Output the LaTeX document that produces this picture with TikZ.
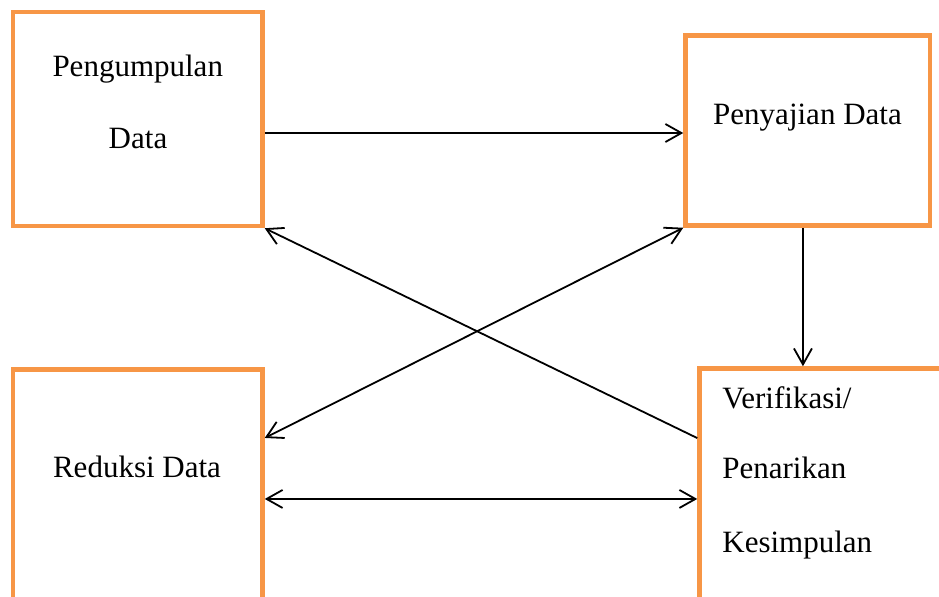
\documentclass[tikz,border=0pt]{standalone}
\usepackage{fontspec}
\setmainfont{Liberation Serif}
\usetikzlibrary{arrows.meta}
\definecolor{boxorange}{HTML}{F79646}
\tikzset{
  box/.style={draw=boxorange, line width=2.25pt, rectangle, inner sep=0pt, fill=white},
  lbl/.style={inner sep=0pt, font=\fontsize{15.5}{18}\selectfont, text=black},
  arr/.style={line width=0.9pt, -{Straight Barb[length=8pt,width=9pt,line width=0.9pt]}},
  darr/.style={line width=0.9pt, {Straight Barb[length=8pt,width=9pt,line width=0.9pt]}-{Straight Barb[length=8pt,width=9pt,line width=0.9pt]}}
}
\begin{document}
\begin{tikzpicture}[x=0.5pt,y=-0.5pt]
\useasboundingbox (0,0) rectangle (939,596);
\clip (0,0) rectangle (939,596);
\fill[white] (0,0) rectangle (939,596);
% boxes
\node[box, minimum width=124.75pt, minimum height=107pt] (b1) at (137.75,119) {};
\node[box, minimum width=122.25pt, minimum height=95pt] (b2) at (807.75,130.5) {};
\node[box, minimum width=124.75pt, minimum height=215.25pt] (b3) at (137.75,584.75) {};
\node[box, minimum width=200.25pt, minimum height=215.75pt] (b4) at (899.75,584.25) {};
% texts
\node[lbl, anchor=base] (t1a) at (137.75,76) {Pengumpulan};
\node[lbl, anchor=base] (t1b) at (138,148) {Data};
\node[lbl, anchor=base] (t2) at (807.5,124) {Penyajian Data};
\node[lbl, anchor=base] (t3) at (137,477.7) {Reduksi Data};
\node[lbl, anchor=base west] (t4a) at (722,408) {Verifikasi/};
\node[lbl, anchor=base west] (t4b) at (722,478) {Penarikan};
\node[lbl, anchor=base west] (t4c) at (722,552) {Kesimpulan};
% connectors
\draw[arr] ([yshift=-7pt]b1.east) -- ([yshift=-7pt]b1.east -| b2.west);
\draw[arr] ([xshift=-2.4pt]b2.south) -- ([xshift=-2.4pt]b2.south |- b4.north);
\draw[arr] ([yshift=73.1pt]b4.west) -- (b1.south east);
\draw[darr] (b2.south west) -- ([yshift=73.4pt]b3.east);
\draw[darr] ([yshift=42.9pt]b3.east) -- ([yshift=42.9pt]b3.east -| b4.west);
\end{tikzpicture}
\end{document}
